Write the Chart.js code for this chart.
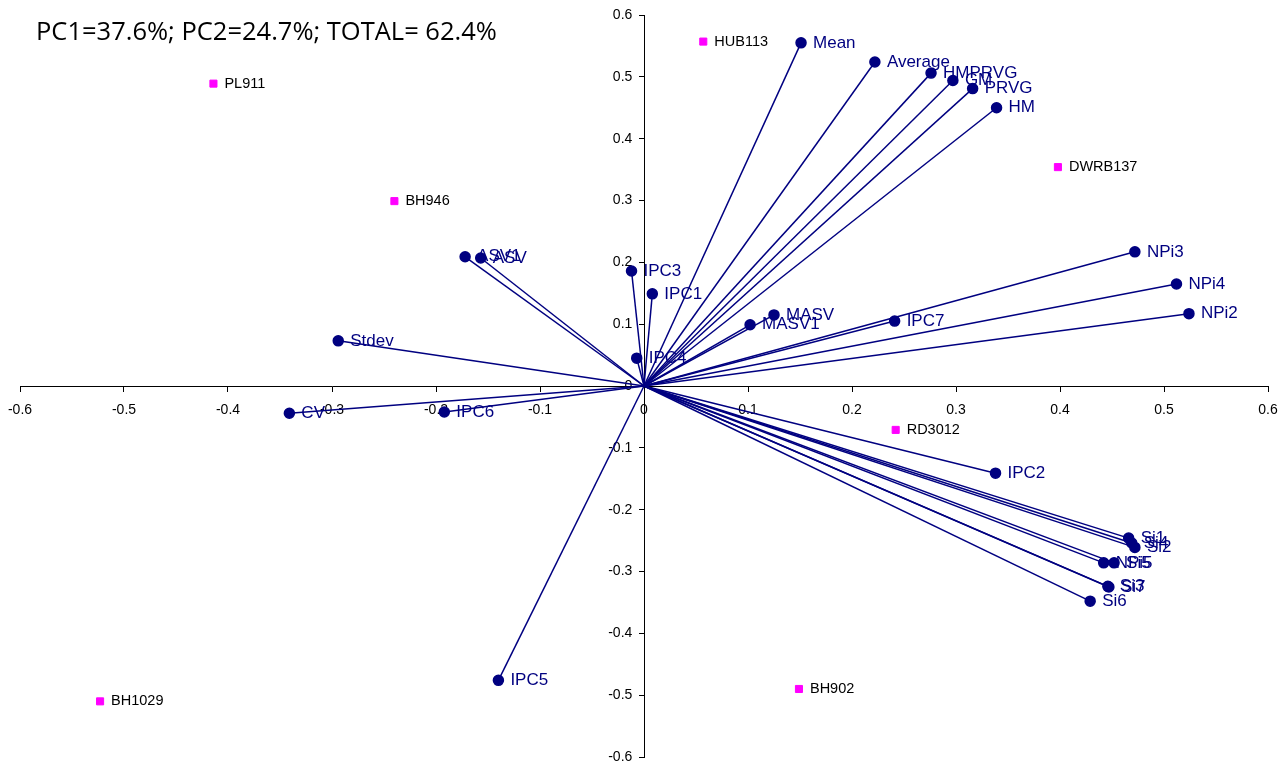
<!DOCTYPE html>
<html>
<head>
<meta charset="utf-8">
<script src="https://cdn.jsdelivr.net/npm/chart.js@4.4.1/dist/chart.umd.min.js"></script>
<style>
  html, body { margin: 0; padding: 0; background: #fff; }
  #wrap { width: 1287px; height: 769px; }
</style>
</head>
<body>
<div id="wrap"><canvas id="biplot" width="1287" height="769"></canvas></div>
<script>
// Trait vectors (PC1, PC2 loadings)
const traitNames = ['Mean','Average','HMPRVG','GM','PRVG','HM','NPi3','NPi4','NPi2','IPC7','MASV','MASV1',
  'IPC3','IPC1','IPC4','ASV1','ASV','Stdev','CV','IPC6','IPC5','IPC2','Si1','Si4','Si2','NPi5','Si5','Si3','Si7','Si6'];
const traitPC1 = [0.151,0.222,0.276,0.297,0.316,0.339,0.472,0.512,0.524,0.241,0.125,0.102,
  -0.012,0.008,-0.007,-0.172,-0.157,-0.294,-0.341,-0.192,-0.140,0.338,0.466,0.469,0.472,0.442,0.452,0.446,0.447,0.429];
const traitPC2 = [0.555,0.524,0.506,0.494,0.481,0.450,0.217,0.165,0.117,0.105,0.115,0.099,
  0.186,0.149,0.045,0.209,0.207,0.073,-0.044,-0.042,-0.476,-0.141,-0.246,-0.254,-0.261,-0.286,-0.286,-0.324,-0.325,-0.348];

// Genotype scores
const genoNames = ['HUB113','PL911','BH946','DWRB137','RD3012','BH1029','BH902'];
const genoPC1 = [0.057,-0.414,-0.240,0.398,0.242,-0.523,0.149];
const genoPC2 = [0.557,0.489,0.299,0.354,-0.071,-0.510,-0.490];

const axisTicks = [-0.6,-0.5,-0.4,-0.3,-0.2,-0.1,0,0.1,0.2,0.3,0.4,0.5,0.6];
const titleText = 'PC1=37.6%; PC2=24.7%; TOTAL= 62.4%';

const NAVY = '#000080';
const MAGENTA = '#ff00ff';
const AXIS_FONT = { family: '"Liberation Sans", Arial, sans-serif', size: 14 };

const fmtTick = (v) => String(Math.round(v * 10) / 10);

const datasets = traitNames.map((name, i) => ({
  type: 'line',
  label: name,
  data: [{x: 0, y: 0}, {x: traitPC1[i], y: traitPC2[i]}],
  borderColor: NAVY,
  borderWidth: 1.5,
  backgroundColor: NAVY,
  pointBackgroundColor: NAVY,
  pointBorderColor: NAVY,
  pointRadius: [0, 5],
  pointHoverRadius: [0, 5],
  clip: false,
  order: 2
}));

datasets.push({
  type: 'scatter',
  label: 'Genotypes',
  data: genoNames.map((n, i) => ({x: genoPC1[i], y: genoPC2[i]})),
  pointStyle: 'rect',
  pointRadius: 5,
  backgroundColor: MAGENTA,
  borderColor: MAGENTA,
  clip: false,
  order: 1
});

// Draws the point labels and the variance caption
const labelPlugin = {
  id: 'biplotLabels',
  afterDatasetsDraw(chart) {
    const ctx = chart.ctx;
    const xs = chart.scales.x, ys = chart.scales.y;
    ctx.save();
    ctx.textBaseline = 'middle';
    ctx.textAlign = 'left';
    ctx.font = '17px "Liberation Sans", Arial, sans-serif';
    ctx.fillStyle = NAVY;
    traitNames.forEach((n, i) => {
      const px = xs.getPixelForValue(traitPC1[i]);
      const py = ys.getPixelForValue(traitPC2[i]);
      ctx.fillText(n, px + 12, py);
    });
    ctx.font = '14.5px "Liberation Sans", Arial, sans-serif';
    ctx.fillStyle = '#000';
    genoNames.forEach((n, i) => {
      const px = xs.getPixelForValue(genoPC1[i]);
      const py = ys.getPixelForValue(genoPC2[i]);
      ctx.fillText(n, px + 11, py);
    });
    ctx.font = '25.5px "Open Sans", Lato, sans-serif';
    ctx.fillStyle = '#000';
    ctx.fillText(titleText, 36, 33);
    ctx.restore();
  }
};

new Chart(document.getElementById('biplot'), {
  type: 'scatter',
  data: { datasets },
  options: {
    responsive: false,
    animation: false,
    layout: { padding: { left: 20, right: 19, top: 15, bottom: 12 } },
    plugins: { legend: { display: false }, tooltip: { enabled: false } },
    scales: {
      x: {
        type: 'linear',
        position: { y: 0 },
        min: -0.6, max: 0.6,
        afterBuildTicks: (s) => { s.ticks = axisTicks.map(v => ({value: v})); },
        // axes cross at the origin, so they need no room of their own
        afterFit: (s) => { s.height = 0; s.paddingLeft = 0; s.paddingRight = 0; },
        grid: { drawOnChartArea: false, drawTicks: true, tickLength: 5, color: '#000' },
        border: { color: '#000', width: 1 },
        ticks: {
          color: '#000',
          font: AXIS_FONT,
          padding: 11,
          maxRotation: 0,
          callback: fmtTick
        }
      },
      y: {
        type: 'linear',
        position: { x: 0 },
        min: -0.6, max: 0.6,
        afterBuildTicks: (s) => { s.ticks = axisTicks.map(v => ({value: v})); },
        afterFit: (s) => { s.width = 0; s.paddingTop = 0; s.paddingBottom = 0; },
        grid: { drawOnChartArea: false, drawTicks: true, tickLength: 5, color: '#000' },
        border: { color: '#000', width: 1 },
        ticks: {
          color: '#000',
          font: AXIS_FONT,
          padding: 4,
          // trailing gap keeps the labels clear of the axis line
          callback: (v) => fmtTick(v) + '   '
        }
      }
    }
  },
  plugins: [labelPlugin]
});
</script>
</body>
</html>
